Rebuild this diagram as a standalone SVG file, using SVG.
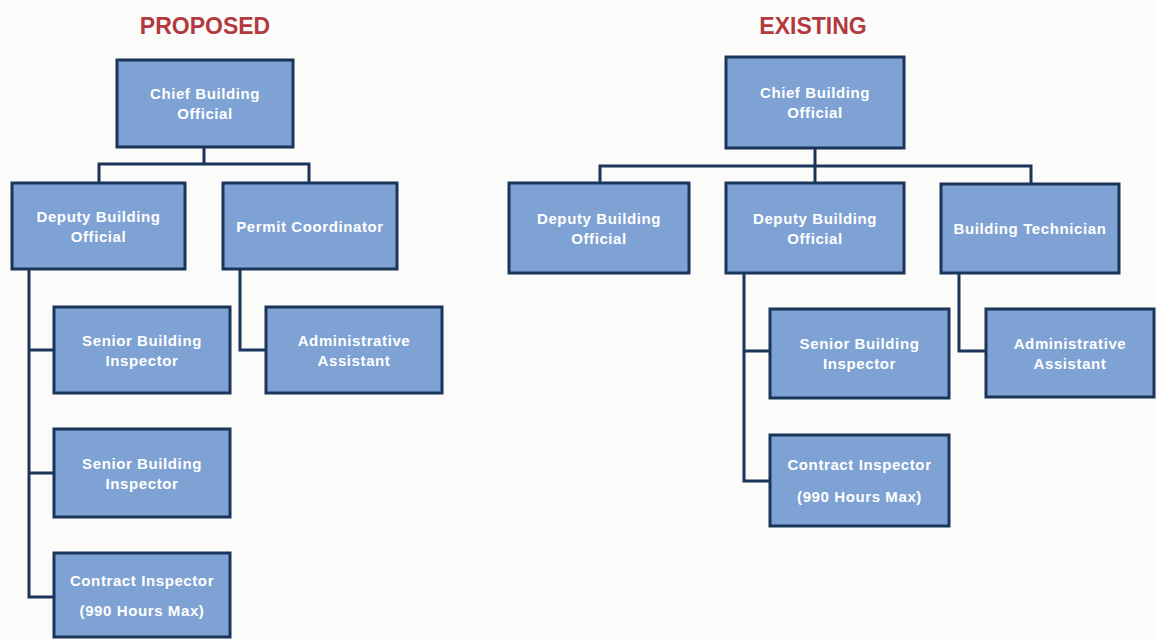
<svg xmlns="http://www.w3.org/2000/svg" width="1157" height="639" viewBox="0 0 1157 639">
<style>
.bg{fill:#fbfbfa}
.box{fill:#7ea2d4;stroke:#1b355a;stroke-width:3}
.lbl{font-family:"Liberation Sans",Arial,sans-serif;font-weight:bold;font-size:15px;letter-spacing:0.6px;fill:#ffffff;text-anchor:middle}
.title{font-family:"Liberation Sans",Arial,sans-serif;font-weight:bold;font-size:23px;fill:#b23a3e;text-anchor:middle}
.conn{fill:none;stroke:#1b355a;stroke-width:3}
</style>
<rect class="bg" x="0" y="0" width="1157" height="639"/>
<text class="title" x="205" y="34">PROPOSED</text>
<text class="title" x="813" y="34">EXISTING</text>
<g id="connectors">
<path class="conn" d="M204,147 V164"/>
<path class="conn" d="M99,183 V164 H309 V183"/>
<path class="conn" d="M29,269 V597 H54"/>
<path class="conn" d="M29,350 H54"/>
<path class="conn" d="M29,473 H54"/>
<path class="conn" d="M240,269 V350 H266"/>
<path class="conn" d="M815,148 V183"/>
<path class="conn" d="M600,183 V166 H1031 V184"/>
<path class="conn" d="M744,273 V481 H770"/>
<path class="conn" d="M744,351 H770"/>
<path class="conn" d="M959,273 V351 H986"/>
</g>
<g id="p_chief"><rect class="box" x="117" y="60" width="176" height="87"/><text class="lbl" x="205" y="99">Chief Building</text><text class="lbl" x="205" y="119">Official</text></g>
<g id="p_deputy"><rect class="box" x="12" y="183" width="173" height="86"/><text class="lbl" x="98.5" y="222">Deputy Building</text><text class="lbl" x="98.5" y="242">Official</text></g>
<g id="p_permit"><rect class="box" x="223" y="183" width="174" height="86"/><text class="lbl" x="310" y="232">Permit Coordinator</text></g>
<g id="p_sbi1"><rect class="box" x="54" y="307" width="176" height="86"/><text class="lbl" x="142" y="346">Senior Building</text><text class="lbl" x="142" y="366">Inspector</text></g>
<g id="p_sbi2"><rect class="box" x="54" y="429" width="176" height="88"/><text class="lbl" x="142" y="469">Senior Building</text><text class="lbl" x="142" y="489">Inspector</text></g>
<g id="p_contract"><rect class="box" x="54" y="553" width="176" height="84"/><text class="lbl" x="142" y="586">Contract Inspector</text><text class="lbl" x="142" y="616">(990 Hours Max)</text></g>
<g id="p_admin"><rect class="box" x="266" y="307" width="176" height="86"/><text class="lbl" x="354" y="346">Administrative</text><text class="lbl" x="354" y="366">Assistant</text></g>
<g id="e_chief"><rect class="box" x="726" y="57" width="178" height="91"/><text class="lbl" x="815" y="98">Chief Building</text><text class="lbl" x="815" y="118">Official</text></g>
<g id="e_deputy1"><rect class="box" x="509" y="183" width="180" height="90"/><text class="lbl" x="599" y="224">Deputy Building</text><text class="lbl" x="599" y="244">Official</text></g>
<g id="e_deputy2"><rect class="box" x="726" y="183" width="178" height="90"/><text class="lbl" x="815" y="224">Deputy Building</text><text class="lbl" x="815" y="244">Official</text></g>
<g id="e_tech"><rect class="box" x="941" y="184" width="178" height="89"/><text class="lbl" x="1030" y="234">Building Technician</text></g>
<g id="e_sbi"><rect class="box" x="770" y="309" width="179" height="89"/><text class="lbl" x="859.5" y="349">Senior Building</text><text class="lbl" x="859.5" y="369">Inspector</text></g>
<g id="e_contract"><rect class="box" x="770" y="435" width="179" height="91"/><text class="lbl" x="859.5" y="470">Contract Inspector</text><text class="lbl" x="859.5" y="502">(990 Hours Max)</text></g>
<g id="e_admin"><rect class="box" x="986" y="309" width="168" height="88"/><text class="lbl" x="1070" y="349">Administrative</text><text class="lbl" x="1070" y="369">Assistant</text></g>
</svg>
